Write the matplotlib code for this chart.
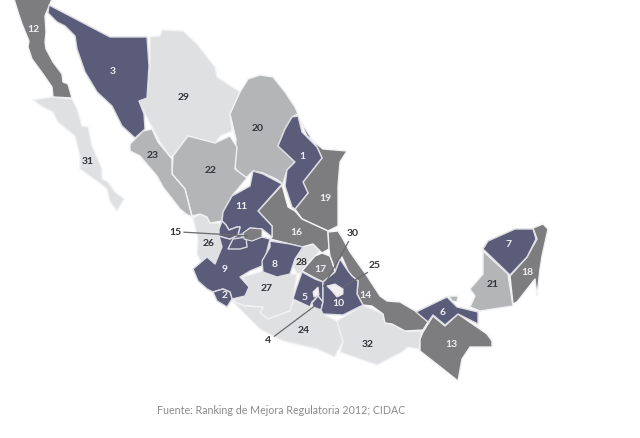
import matplotlib
matplotlib.use("Agg")
import matplotlib.pyplot as plt
from matplotlib.patches import Polygon

# State outlines
s12 = [(14,0),(52,0),(50,5),(45,17),(46,33),(45,43),(46,50),(53,63),(62,75),(63,83),(68,85),(72,99),(53,98),(52,88),(43,75),(32,60),(28,48),(29,42),(22,25),(18,13)]
s31 = [(33,101),(52,98),(72,100),(77,110),(82,127),(88,128),(92,147),(102,170),(102,180),(108,183),(115,193),(124,200),(117,212),(110,203),(107,190),(97,182),(80,170),(80,157),(75,137),(58,123),(53,113),(43,108)]
s3 = [(49,6),(110,38),(147,38),(149,67),(147,99),(139,102),(144,115),(145,130),(135,139),(122,127),(112,107),(97,93),(85,73),(77,50),(75,37),(65,27),(57,23),(48,14)]
s29 = [(150,38),(160,37),(162,31),(183,32),(197,45),(207,58),(215,68),(217,78),(240,93),(230,115),(232,132),(220,137),(215,145),(188,137),(173,157),(170,158),(160,143),(154,132),(145,115),(139,102),(147,99),(150,67)]
s20 = [(260,76),(273,78),(285,93),(295,108),(298,115),(292,118),(285,130),(278,147),(295,163),(287,171),(283,185),(276,180),(263,174),(253,172),(247,178),(240,178),(235,168),(236,140),(230,115),(240,93),(248,80)]
s22 = [(173,157),(188,137),(215,144),(230,137),(237,148),(235,170),(247,179),(232,197),(223,213),(222,222),(210,224),(207,218),(200,215),(192,217),(185,190),(172,175)]
s23 = [(130,145),(143,132),(152,130),(158,143),(172,160),(172,175),(185,190),(192,218),(186,215),(180,210),(163,188),(157,177),(140,157),(130,152)]
s26 = [(193,219),(200,215),(207,218),(210,224),(220,224),(219,232),(220,238),(222,248),(215,265),(207,258),(201,263),(197,255),(198,240)]
s11 = [(253,172),(263,175),(282,185),(258,212),(272,227),(272,238),(262,230),(250,229),(243,235),(238,236),(240,228),(237,228),(229,231),(226,226),(222,222),(223,213),(232,197),(250,187)]
s15 = [(243,234),(250,229),(262,230),(262,238),(252,242),(244,240)]
s9 = [(193,270),(207,258),(215,265),(222,248),(219,237),(230,240),(238,236),(246,238),(262,238),(270,240),(265,260),(262,267),(250,272),(240,278),(249,288),(245,297),(232,300),(230,293),(223,290),(213,293),(207,290),(198,282)]
s9b = [(228,250),(233,240),(246,238),(247,248),(240,250)]
s9c = [(222,222),(226,226),(229,231),(237,228),(240,228),(238,236),(230,240),(219,237),(219,230)]
s2 = [(213,293),(223,290),(230,293),(232,300),(227,308),(217,302)]
s8 = [(270,242),(290,245),(303,248),(295,260),(290,275),(277,278),(263,273),(262,262),(270,248)]
s28 = [(302,248),(313,245),(320,252),(305,268),(303,273),(297,275),(293,267),(297,257)]
s16 = [(282,186),(288,208),(295,212),(302,220),(328,232),(329,250),(322,254),(313,245),(302,248),(290,245),(270,240),(272,238),(272,227),(258,212)]
s19 = [(298,118),(307,137),(323,150),(347,152),(340,163),(338,187),(338,227),(328,232),(302,220),(295,210),(308,194),(303,183),(322,159),(317,148)]
s1 = [(298,117),(292,118),(285,130),(278,147),(295,163),(287,171),(285,187),(292,208),(295,210),(308,194),(303,183),(322,159),(317,148),(302,133)]
s14 = [(328,233),(338,232),(343,240),(350,253),(367,277),(380,297),(387,302),(400,303),(417,313),(428,323),(423,331),(405,332),(392,325),(385,324),(383,315),(372,307),(363,306),(357,295),(358,282),(352,277),(348,272),(342,258),(335,273),(333,265),(330,257),(329,250)]
s17 = [(302,272),(308,265),(315,257),(322,254),(330,257),(333,265),(335,273),(323,283),(315,279)]
s5 = [(302,273),(315,280),(323,283),(323,303),(318,297),(312,303),(310,308),(293,300),(296,290)]
s4 = [(312,304),(318,297),(323,303),(321,311),(313,308)]
s30 = [(313,293),(318,288),(319,296),(314,298)]
s10 = [(340,260),(348,272),(352,277),(358,282),(357,295),(363,306),(343,316),(323,315),(321,311),(323,303),(323,283),(335,273)]
s25 = [(327,287),(335,285),(343,290),(343,295),(337,298),(332,292)]
s27 = [(242,278),(263,272),(277,278),(290,275),(297,275),(293,300),(293,306),(290,312),(268,320),(260,314),(263,308),(245,307),(232,302),(245,297),(249,288)]
s24 = [(232,302),(245,307),(263,308),(260,314),(268,320),(290,312),(293,301),(310,308),(313,308),(321,311),(323,315),(337,322),(343,343),(337,353),(335,358),(317,350),(283,342),(260,330)]
s32 = [(337,322),(363,306),(383,315),(385,324),(392,325),(405,332),(422,332),(419,350),(408,348),(402,353),(377,366),(340,353),(343,343)]
s13 = [(420,340),(423,333),(433,317),(445,327),(458,315),(487,335),(492,342),(492,348),(470,348),(462,360),(458,382),(443,370),(420,352)]
s6 = [(416,313),(447,298),(457,308),(478,313),(478,325),(458,315),(445,326),(433,316),(428,323)]
s21 = [(483,252),(508,275),(513,307),(480,312),(470,308),(475,297),(470,290),(483,275)]
s21b = [(449,297),(458,297),(457,303),(452,302)]
s7 = [(483,250),(488,242),(515,230),(533,230),(536,240),(527,258),(510,276)]
s18 = [(533,229),(543,225),(548,230),(542,257),(540,270),(537,297),(535,280),(517,303),(513,305),(510,277),(527,258),(537,240)]

# Ranking groups
blue_states = [s3, s1, s11, s9, s9b, s9c, s2, s8, s5, s4, s10, s6, s7]
dark_states = [s12, s19, s16, s17, s14, s13, s18, s15]
mid_states = [s20, s22, s23, s21, s21b]
light_states = [s29, s31, s26, s28, s27, s24, s32, s30, s25]

# Ranking numbers and where they sit
labels_white = ["12", "3", "1", "19", "11", "16", "9", "8", "17", "5", "10", "14", "2", "13", "6", "18", "7"]
white_xy = [(33,30),(113,71),(302,157),(325,199),(241,207),(296,233),(225,270),(275,265),(320,270),(305,298),(338,304),(365,296),(225,296),(451,345),(443,313),(527,273),(509,245)]
labels_dark = ["29", "20", "23", "22", "31", "26", "28", "27", "24", "32", "21", "15", "30", "25", "4"]
dark_xy = [(184,98),(258,129),(153,156),(211,171),(88,162),(209,244),(302,263),(267,289),(304,331),(368,345),(493,285),(175,233),(353,234),(375,266),(268,341)]

leaders = [((181,233),(250,237)), ((350,240),(322,290)), ((370,272),(340,290)), ((272,339),(316,306))]
source = "Fuente: Ranking de Mejora Regulatoria 2012; CIDAC"

COL = {"blue": "#5b5c7a", "dark": "#7d7d7f", "mid": "#b4b5b7", "light": "#dfe0e2"}

fig = plt.figure(figsize=(6.40, 4.39), dpi=100)
ax = fig.add_axes([0, 0, 1, 1])
ax.set_xlim(0, 640)
ax.set_ylim(439, 0)
ax.axis("off")

for group, c in [(light_states, COL["light"]), (mid_states, COL["mid"]), (dark_states, COL["dark"])]:
    for p in group:
        ax.add_patch(Polygon(p, closed=True, fc=c, ec="#f2f2f4", lw=1.0, joinstyle="round"))
for p in blue_states:
    ax.add_patch(Polygon(p, closed=True, fc=COL["blue"], ec="#dcdce2", lw=1.0, joinstyle="round"))
# pieces that sit on top of their neighbours
for p, c in [(s15, COL["dark"]), (s30, "#f4f4f4"), (s25, "#f0f0f0")]:
    ax.add_patch(Polygon(p, closed=True, fc=c, ec="#e4e4e8", lw=0.8))

for a, b in leaders:
    ax.annotate("", xy=b, xytext=a, arrowprops=dict(arrowstyle="-", color="#6a6a6e", lw=0.9))

for t, (x, y) in zip(labels_white, white_xy):
    ax.text(x, y, t, color="#eeeef2", fontsize=7.5, fontweight="bold", family="Lato", ha="center", va="center")
for t, (x, y) in zip(labels_dark, dark_xy):
    ax.text(x, y, t, color="#333338", fontsize=7.5, fontweight="bold", family="Lato", ha="center", va="center")

ax.text(157, 411, source, color="#8a8a8c", fontsize=7.7, family="Lato", ha="left", va="center")

fig.savefig("out.png", dpi=100, facecolor="white")
